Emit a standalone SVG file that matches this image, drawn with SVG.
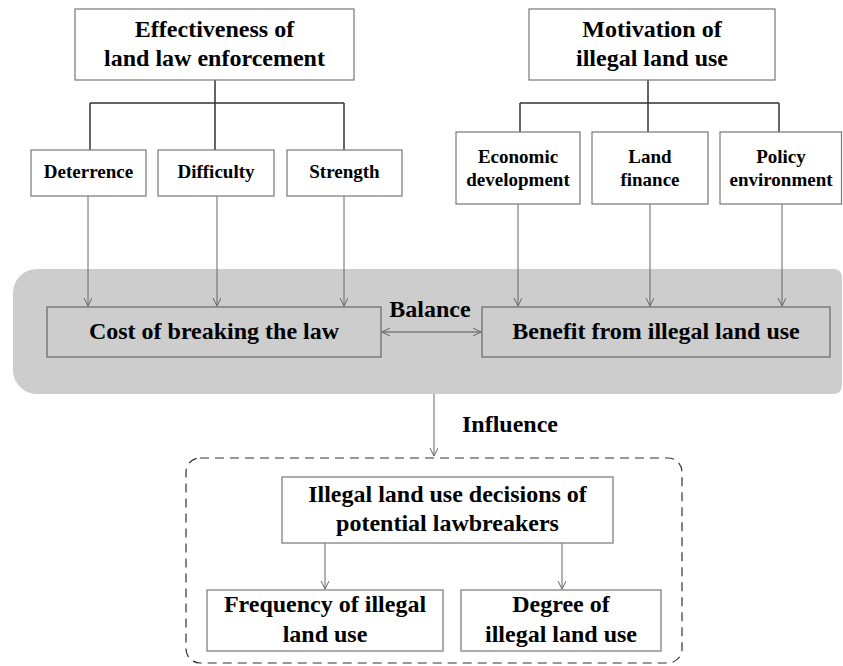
<svg xmlns="http://www.w3.org/2000/svg" width="843" height="666" viewBox="0 0 843 666" font-family="Liberation Serif, DejaVu Serif, serif">
<style>
.box{fill:#fff;stroke:#777;stroke-width:1.2}
.gbox{fill:none;stroke:#666;stroke-width:1.2}
text{font-family:'Liberation Serif','DejaVu Serif',serif;font-weight:700;fill:#000;text-anchor:middle}
.big{font-size:24px}
.sm{font-size:19px}
.tree{fill:none;stroke:#333;stroke-width:1.5}
.arr{fill:none;stroke:#666;stroke-width:1;marker-end:url(#ah)}
</style>
<defs>
<marker id="ah" markerUnits="userSpaceOnUse" markerWidth="10" markerHeight="10" refX="8" refY="4" orient="auto-start-reverse">
<path d="M0,0 L8,4 L0,8" fill="none" stroke="#666" stroke-width="1"/>
</marker>
</defs>
<rect width="843" height="666" fill="#fff"/>
<path id="balance-zone" d="M37,269 H834 A8,8 0 0 1 842,277 V386 A8,8 0 0 1 834,394 H37 A24,24 0 0 1 13,370 V293 A24,24 0 0 1 37,269 Z" fill="#cdcdcd"/>
<rect id="decision-zone" x="186" y="458" width="496" height="205" rx="14" fill="none" stroke="#333" stroke-width="1.2" stroke-dasharray="9,6"/>
<g id="connectors">
<path class="tree" d="M215,80 V103 M90,103 H344 M90,103 V150 M215,103 V150 M344,103 V150"/>
<path class="tree" d="M648,80 V103 M520,103 H779 M520,103 V132 M648,103 V132 M779,103 V132"/>
<line class="arr" x1="88" y1="196" x2="88" y2="306"/>
<line class="arr" x1="217" y1="196" x2="217" y2="306"/>
<line class="arr" x1="344" y1="196" x2="344" y2="306"/>
<line class="arr" x1="518" y1="204" x2="518" y2="306"/>
<line class="arr" x1="650" y1="204" x2="650" y2="306"/>
<line class="arr" x1="782" y1="204" x2="782" y2="306"/>
<line x1="382" y1="332" x2="481" y2="332" stroke="#555" stroke-width="1.2" marker-start="url(#ah)" marker-end="url(#ah)"/>
<line class="arr" x1="434" y1="394" x2="434" y2="456"/>
<line class="arr" x1="325" y1="543" x2="325" y2="589"/>
<line class="arr" x1="562" y1="543" x2="562" y2="589"/>
<text class="big" x="430" y="317">Balance</text>
<text class="big" x="510" y="432">Influence</text>
</g>
<g id="effectiveness">
<rect class="box" x="75" y="9" width="279" height="71"/>
<text class="big" x="214.5" y="37">Effectiveness of</text>
<text class="big" x="214.5" y="66">land law enforcement</text>
</g>
<g id="motivation">
<rect class="box" x="529" y="9" width="246" height="71"/>
<text class="big" x="652" y="37">Motivation of</text>
<text class="big" x="652" y="66">illegal land use</text>
</g>
<g id="deterrence">
<rect class="box" x="31" y="150" width="115" height="46"/>
<text class="sm" x="88.5" y="178">Deterrence</text>
</g>
<g id="difficulty">
<rect class="box" x="158" y="150" width="116" height="46"/>
<text class="sm" x="216" y="178">Difficulty</text>
</g>
<g id="strength">
<rect class="box" x="287" y="150" width="115" height="46"/>
<text class="sm" x="344.5" y="178">Strength</text>
</g>
<g id="economic">
<rect class="box" x="456" y="132" width="124" height="72"/>
<text class="sm" x="518" y="163">Economic</text>
<text class="sm" x="518" y="186">development</text>
</g>
<g id="land-finance">
<rect class="box" x="592" y="132" width="116" height="72"/>
<text class="sm" x="650" y="163">Land</text>
<text class="sm" x="650" y="186">finance</text>
</g>
<g id="policy">
<rect class="box" x="720" y="132" width="121.5" height="72"/>
<text class="sm" x="781" y="163">Policy</text>
<text class="sm" x="781" y="186">environment</text>
</g>
<g id="cost">
<rect class="gbox" x="47" y="307" width="334" height="50"/>
<text class="big" x="214" y="339">Cost of breaking the law</text>
</g>
<g id="benefit">
<rect class="gbox" x="482" y="307" width="348" height="50"/>
<text class="big" x="656" y="339">Benefit from illegal land use</text>
</g>
<g id="decisions">
<rect class="box" x="282" y="477" width="331" height="66"/>
<text class="big" x="447.5" y="502">Illegal land use decisions of</text>
<text class="big" x="447.5" y="531">potential lawbreakers</text>
</g>
<g id="frequency">
<rect class="box" x="207" y="590" width="236" height="61"/>
<text class="big" x="325" y="612">Frequency of illegal</text>
<text class="big" x="325" y="642">land use</text>
</g>
<g id="degree">
<rect class="box" x="461" y="590" width="200" height="61"/>
<text class="big" x="561" y="612">Degree of</text>
<text class="big" x="561" y="642">illegal land use</text>
</g>
</svg>
